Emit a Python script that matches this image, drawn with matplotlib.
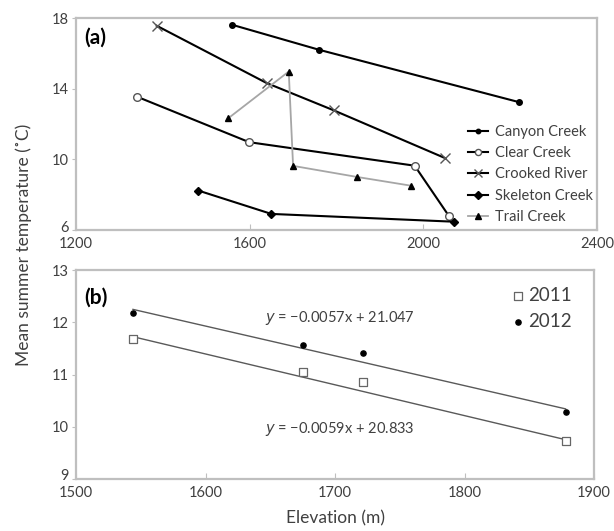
import matplotlib.pyplot as plt
import matplotlib.transforms as mtransforms
import numpy as np

plt.rcParams["font.family"] = ["Lato", "DejaVu Sans"]

# Panel (a): elevation (m) vs mean summer temperature for each creek
canyon_x = [1559, 1760, 2220]
canyon_y = [17.62, 16.2, 13.24]
clear_x = [1341, 1599, 1980, 2059]
clear_y = [13.54, 10.97, 9.64, 6.79]
crooked_x = [1386, 1639, 1794, 2051]
crooked_y = [17.56, 14.32, 12.77, 10.06]
skeleton_x = [1482, 1650, 2070]
skeleton_y = [8.23, 6.91, 6.47]
trail_x = [1551, 1690, 1700, 1848, 1971]
trail_y = [12.33, 14.97, 9.63, 9.0, 8.51]

# Panel (b): mean across sites by year
elev_b = [1544, 1675, 1721.5, 1878]
temp_2011 = [11.68, 11.04, 10.86, 9.72]
temp_2012 = [12.18, 11.57, 11.41, 10.28]
fit_2011 = (-0.0059, 20.833)
fit_2012 = (-0.0057, 21.047)

W, H = 614, 531
fig = plt.figure(figsize=(W / 100, H / 100), dpi=100)

spine_col = "#bfbfbf"
txt_col = "#404040"


def px_axes(x0, y0, x1, y1):
    return fig.add_axes([x0 / W, 1 - y1 / H, (x1 - x0) / W, (y1 - y0) / H])


def style(ax):
    for s in ax.spines.values():
        s.set_color(spine_col)
        s.set_linewidth(1.6)
    ax.tick_params(axis="y", direction="out", length=3, color=spine_col,
                   labelsize=10.5, labelcolor=txt_col, pad=2)
    ax.tick_params(axis="x", direction="in", length=4, color=spine_col,
                   labelsize=10.5, labelcolor=txt_col, pad=5)


def nudge_bottom_label(ax):
    # lift the lowest y label so it sits clear of the first x label
    fig.canvas.draw()
    lbl = ax.get_yticklabels()[0]
    off = mtransforms.ScaledTranslation(0, 4 / 100, fig.dpi_scale_trans)
    lbl.set_transform(lbl.get_transform() + off)


# ---- panel (a)
ax1 = px_axes(76, 18, 597, 230)
style(ax1)
ax1.plot(canyon_x, canyon_y, color="black", lw=1.5, marker="o", ms=4,
         label="Canyon Creek")
ax1.plot(clear_x, clear_y, color="black", lw=1.5, marker="o", ms=5.5,
         mfc="white", mec="#555555", label="Clear Creek")
ax1.plot(crooked_x, crooked_y, color="black", lw=1.5, marker="x", ms=7,
         mec="#555555", mew=1, label="Crooked River")
ax1.plot(skeleton_x, skeleton_y, color="black", lw=1.5, marker="D", ms=4.5,
         label="Skeleton Creek")
ax1.plot(trail_x, trail_y, color="#a6a6a6", lw=1.3, marker="^", ms=5,
         mfc="black", mec="black", label="Trail Creek")
ax1.set_xlim(1200, 2400)
ax1.set_ylim(6, 18)
ax1.set_xticks([1200, 1600, 2000, 2400])
ax1.set_yticks([6, 10, 14, 18])
ax1.text(0.015, 0.905, "(a)", transform=ax1.transAxes, fontsize=15,
         fontweight="bold", va="center")
leg1 = ax1.legend(loc="lower left", bbox_to_anchor=(0.752, 0.028),
                  frameon=False, fontsize=10.5, handlelength=1.4,
                  handletextpad=0.45, labelspacing=0.5, labelcolor=txt_col,
                  borderpad=0, borderaxespad=0)
for h in leg1.legend_handles:
    h.set_markersize(h.get_markersize() * 0.8)

# ---- panel (b)
ax2 = px_axes(76, 270, 594, 479)
style(ax2)
ax2.scatter(elev_b, temp_2011, marker="s", s=30, facecolor="white",
            edgecolor="#666666", lw=0.9, zorder=3, label="2011")
ax2.scatter(elev_b, temp_2012, marker="o", s=14, color="black", zorder=3,
            label="2012")
xe = np.array([elev_b[0], elev_b[-1]])
ax2.plot(xe, fit_2011[0] * xe + fit_2011[1], color="#595959", lw=1)
ax2.plot(xe, fit_2012[0] * xe + fit_2012[1], color="#595959", lw=1)
ax2.set_xlim(1500, 1900)
ax2.set_ylim(9, 13)
ax2.set_xticks([1500, 1600, 1700, 1800, 1900])
ax2.set_yticks([9, 10, 11, 12, 13])
ax2.text(1704, 12.09, "$y$ = \u22120.0057x + 21.047",
         fontsize=10.5, color=txt_col, ha="center", va="center")
ax2.text(1704, 9.96, "$y$ = \u22120.0059x + 20.833",
         fontsize=10.5, color=txt_col, ha="center", va="center")
ax2.text(0.015, 0.87, "(b)", transform=ax2.transAxes, fontsize=15,
         fontweight="bold", va="center")
ax2.legend(loc="upper right", bbox_to_anchor=(0.99, 1.0), frameon=False,
           fontsize=13.5, handlelength=0.5, handletextpad=0.3,
           labelspacing=0.5, labelcolor=txt_col)

fig.text(24 / W, 1 - 245 / H, "Mean summer temperature (\u02daC)",
         rotation=90, ha="center", va="center", fontsize=12.5, color=txt_col)
fig.text(335 / W, 1 - 518 / H, "Elevation (m)", ha="center", va="center",
         fontsize=12.5, color=txt_col)

nudge_bottom_label(ax1)
nudge_bottom_label(ax2)

fig.savefig("out.png", dpi=100)
